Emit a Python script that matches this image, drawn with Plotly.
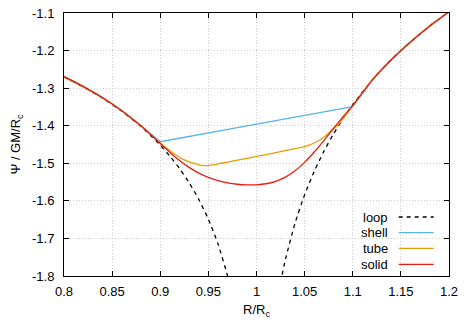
import plotly.graph_objects as go

# ---- data ----
loop_x = [0.80, 0.82, 0.84, 0.86, 0.88, 0.89, 0.90, 0.91, 0.92, 0.93, 0.94, 0.95, 0.96, 0.97, 0.975,
          None,
          1.025, 1.03, 1.04, 1.05, 1.06, 1.07, 1.08, 1.09, 1.10, 1.12, 1.14, 1.16, 1.18, 1.20]
loop_y = [-1.2703, -1.2966, -1.3265, -1.3613, -1.4023, -1.4258, -1.4518, -1.4810, -1.5139, -1.5517,
          -1.5959, -1.6489, -1.7145, -1.8004, -1.8554,
          None,
          -1.8174, -1.7565, -1.6598, -1.5839, -1.5215, -1.4683, -1.4219, -1.3808, -1.3438, -1.2794,
          -1.2246, -1.1769, -1.1346, -1.0967]

shell_x = [0.80, 0.82, 0.84, 0.86, 0.88, 0.89, 0.90, 1.00, 1.10, 1.12, 1.14, 1.16, 1.18, 1.20]
shell_y = [-1.2685, -1.2948, -1.3243, -1.3588, -1.3993, -1.4215, -1.4426, -1.3958, -1.3490,
           -1.2794, -1.2246, -1.1769, -1.1346, -1.0967]

tube_x = [0.80, 0.82, 0.84, 0.86, 0.88, 0.89, 0.90, 0.905, 0.91, 0.915, 0.92, 0.925, 0.93, 0.935,
          0.94, 0.945, 0.95, 0.955, 0.96, 0.97, 0.98, 1.00, 1.02, 1.04, 1.05, 1.055, 1.06, 1.065,
          1.07, 1.075, 1.08, 1.085, 1.09, 1.10, 1.12, 1.14, 1.16, 1.18, 1.20]
tube_y = [-1.2695, -1.2958, -1.3255, -1.3600, -1.4005, -1.4235, -1.4460, -1.4570, -1.4665, -1.4760,
          -1.4840, -1.4908, -1.4962, -1.5005, -1.5040, -1.5060, -1.5060, -1.5045, -1.5018, -1.4968,
          -1.4918, -1.4818, -1.4715, -1.4610, -1.4558, -1.4515, -1.4460, -1.4395, -1.4305, -1.4195,
          -1.4075, -1.3975, -1.3810, -1.3470, -1.2794, -1.2246, -1.1769, -1.1346, -1.0967]

solid_x = [0.80, 0.82, 0.84, 0.86, 0.88, 0.89, 0.90, 0.91, 0.92, 0.93, 0.94, 0.95, 0.96, 0.97,
           0.98, 0.99, 1.00, 1.01, 1.02, 1.03, 1.04, 1.05, 1.06, 1.07, 1.08, 1.09, 1.10,
           1.12, 1.14, 1.16, 1.18, 1.20]
solid_y = [-1.2695, -1.2958, -1.3255, -1.3600, -1.4005, -1.4235, -1.4475, -1.4710, -1.4925, -1.5110,
           -1.5260, -1.5375, -1.5460, -1.5520, -1.5558, -1.5575, -1.5572, -1.5545, -1.5480, -1.5370,
           -1.5200, -1.4975, -1.4700, -1.4395, -1.4075, -1.3760, -1.3465,
           -1.2794, -1.2246, -1.1769, -1.1346, -1.0967]

x_ticks = [0.8, 0.85, 0.9, 0.95, 1.0, 1.05, 1.1, 1.15, 1.2]
x_tick_labels = ["0.8", "0.85", "0.9", "0.95", "1", "1.05", "1.1", "1.15", "1.2"]
y_ticks = [-1.8, -1.7, -1.6, -1.5, -1.4, -1.3, -1.2, -1.1]
y_tick_labels = ["-1.8", "-1.7", "-1.6", "-1.5", "-1.4", "-1.3", "-1.2", "-1.1"]

series_names = ["loop", "shell", "tube", "solid"]
series_colors = ["black", "#56b4e9", "#e69f00", "#e51e10"]

FONT = "Liberation Sans, Arial, Helvetica, sans-serif"

fig = go.Figure()
fig.add_trace(go.Scatter(x=loop_x, y=loop_y, mode="lines", name="loop",
                         line=dict(color=series_colors[0], width=1.3, dash="4px,4px",
                                   shape="spline", smoothing=0.6),
                         connectgaps=False, showlegend=False))
fig.add_trace(go.Scatter(x=shell_x, y=shell_y, mode="lines", name="shell",
                         line=dict(color=series_colors[1], width=1.3), showlegend=False))
fig.add_trace(go.Scatter(x=tube_x, y=tube_y, mode="lines", name="tube",
                         line=dict(color=series_colors[2], width=1.3, shape="spline", smoothing=0.6),
                         showlegend=False))
fig.add_trace(go.Scatter(x=solid_x, y=solid_y, mode="lines", name="solid",
                         line=dict(color=series_colors[3], width=1.3, shape="spline", smoothing=0.6),
                         showlegend=False))

# gnuplot-style key: right-aligned text followed by line sample
row_y = [0.2243, 0.1646, 0.1053, 0.0445]
for name, col, yy in zip(series_names, series_colors, row_y):
    fig.add_annotation(x=0.848, y=yy, xref="paper", yref="paper", text=name, showarrow=False,
                       xanchor="right", yanchor="middle", font=dict(family=FONT, size=13, color="black"))
    fig.add_shape(type="line", xref="paper", yref="paper", x0=0.8694, x1=0.9603, y0=yy, y1=yy,
                  line=dict(color=col, width=1.3, dash="4px,4px" if name == "loop" else "solid"))

axis_common = dict(showline=True, linecolor="black", linewidth=1, mirror="allticks",
                   ticks="inside", ticklen=5, tickcolor="black", tickwidth=1,
                   showgrid=True, gridcolor="rgb(205,205,205)", gridwidth=1, griddash="1px,2px",
                   zeroline=False, tickfont=dict(family=FONT, size=13, color="black"))

fig.update_xaxes(range=[0.8, 1.2], tickvals=x_ticks, ticktext=x_tick_labels,
                 title=dict(text="R/R<sub>c</sub>", font=dict(family=FONT, size=13, color="black"),
                            standoff=7),
                 ticklabelstandoff=3, **axis_common)
fig.update_yaxes(range=[-1.8, -1.1], tickvals=y_ticks, ticktext=y_tick_labels,
                 title=dict(text="Ψ / GM/R<sub>c</sub>", font=dict(family=FONT, size=13, color="black"),
                            standoff=8),
                 ticklabelstandoff=6, **axis_common)

fig.update_layout(width=474, height=332, margin=dict(l=64, r=25, t=13, b=56, autoexpand=False),
                  paper_bgcolor="white", plot_bgcolor="white", showlegend=False,
                  font=dict(family=FONT, size=13, color="black"))

fig.write_html("out.html", config={"displayModeBar": False},
               post_script="document.body.style.margin='0';")
